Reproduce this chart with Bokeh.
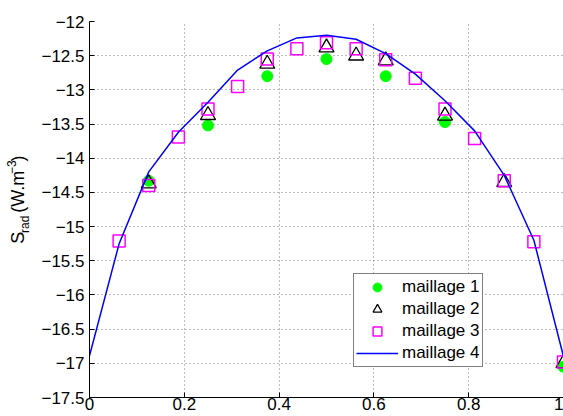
import math
from bokeh.plotting import figure
from bokeh.layouts import row
from bokeh.models import FixedTicker, Legend, LegendItem, Range1d
from bokeh.core.properties import value
from bokeh.embed import file_html
from bokeh.resources import INLINE

# ---- data -------------------------------------------------------------
x_ticks = [0, 0.2, 0.4, 0.6, 0.8, 1.0]
x_tick_labels = ["0", "0.2", "0.4", "0.6", "0.8", "1"]
y_ticks = [-17.5, -17.0, -16.5, -16.0, -15.5, -15.0, -14.5, -14.0, -13.5, -13.0, -12.5, -12.0]
y_tick_labels = ["\u221217.5", "\u221217", "\u221216.5", "\u221216", "\u221215.5", "\u221215",
                 "\u221214.5", "\u221214", "\u221213.5", "\u221213", "\u221212.5", "\u221212"]

m1_x = [0.125, 0.25, 0.375, 0.5, 0.625, 0.75, 1.0]
m1_y = [-14.33, -13.52, -12.80, -12.55, -12.80, -13.47, -17.05]

m2_x = [0.125, 0.25, 0.375, 0.5, 0.5625, 0.625, 0.75, 0.875, 1.0]
m2_y = [-14.37, -13.37, -12.62, -12.38, -12.50, -12.57, -13.38, -14.35, -17.00]

m3_x = [0.0625, 0.125, 0.1875, 0.25, 0.3125, 0.375, 0.4375, 0.5, 0.5625, 0.625,
        0.6875, 0.75, 0.8125, 0.875, 0.9375, 1.0]
m3_y = [-15.21, -14.40, -13.69, -13.28, -12.95, -12.55, -12.40, -12.31, -12.40, -12.56,
        -12.83, -13.28, -13.71, -14.33, -15.22, -16.98]

m4_x = [0.0, 0.0625, 0.125, 0.1875, 0.25, 0.3125, 0.375, 0.4375, 0.5, 0.5625, 0.625,
        0.6875, 0.75, 0.8125, 0.875, 0.9375, 1.0]
m4_y = [-16.89, -15.25, -14.20, -13.62, -13.18, -12.71, -12.43, -12.24, -12.20, -12.26, -12.47,
        -12.77, -13.16, -13.60, -14.25, -15.20, -16.90]

legend_labels = ["maillage 1", "maillage 2", "maillage 3", "maillage 4"]
ylabel_main = ["S", "(W.m", ")"]
ylabel_small = ["rad", "\u22123"]

FONT = "Liberation Sans"

# ---- layout (pixels) --------------------------------------------------
W, H = 563, 416
LW = 34                                   # width of the y-label strip
FL, FR, FT, FB = 89, 563, 21, 397         # frame edges on the page
X0, X1, Y0, Y1 = 0.0, 1.0, -17.5, -12.0

# ---- y label strip (text drawn in a pixel coordinate system) -----------
lab = figure(width=LW, height=H, output_backend="svg", toolbar_location=None,
             x_range=Range1d(0, LW), y_range=Range1d(0, H),
             x_axis_type=None, y_axis_type=None, min_border=0)
lab.outline_line_color = None
lab.grid.visible = False
lab.background_fill_color = "white"
lab.border_fill_color = "white"
# text centre-line x and start y (page px) of each piece
lab.text(x=[17, 17, 17], y=[H - 246, H - 211.7, H - 155], text=ylabel_main,
         angle=math.pi / 2, text_align="left", text_baseline="middle",
         text_font=value(FONT), text_font_size="18px", text_color="black")
lab.text(x=[24, 11], y=[H - 234, H - 168.7], text=ylabel_small,
         angle=math.pi / 2, text_align="left", text_baseline="middle",
         text_font=value(FONT), text_font_size="12px", text_color="black")

# ---- main figure ------------------------------------------------------
p = figure(width=W - LW, height=H, output_backend="svg", toolbar_location=None,
           x_range=Range1d(X0, X1), y_range=Range1d(Y0, Y1),
           min_border_left=FL - LW, min_border_right=W - FR, min_border_top=FT,
           min_border_bottom=H - FB)
p.outline_line_color = None
p.background_fill_color = "white"
p.border_fill_color = "white"

for ax in (p.xaxis[0], p.yaxis[0]):
    ax.axis_line_color = "black"
    ax.axis_line_width = 1
    ax.major_tick_line_color = "black"
    ax.major_tick_in = 5
    ax.major_tick_out = 0
    ax.minor_tick_line_color = None
    ax.major_label_text_font = FONT
    ax.major_label_text_font_size = "17px"
    ax.major_label_text_color = "black"

p.xaxis[0].ticker = FixedTicker(ticks=x_ticks)
p.xaxis[0].major_label_overrides = {t: l for t, l in zip(x_ticks, x_tick_labels)}
p.xaxis[0].major_label_standoff = 0
p.yaxis[0].ticker = FixedTicker(ticks=y_ticks)
p.yaxis[0].major_label_overrides = {t: l for t, l in zip(y_ticks, y_tick_labels)}
p.yaxis[0].major_label_standoff = 5

for g in (p.xgrid[0], p.ygrid[0]):
    g.grid_line_color = "#555555"
    g.grid_line_alpha = 0.8
    g.grid_line_dash = "1 3"
    g.grid_line_width = 1

r1 = p.scatter(m1_x, m1_y, marker="circle", size=11, fill_color="#00ff00", line_color="#00ff00")
r2 = p.scatter(m2_x, m2_y, marker="triangle", size=15, fill_color=None, line_color="black",
               line_width=1.3)
r3 = p.scatter(m3_x, m3_y, marker="square", size=12, fill_color=None, line_color="#ff00ff",
               line_width=1.5)
r4 = p.line(m4_x, m4_y, line_color="#0000ff", line_width=1.5)

legend = Legend(items=[LegendItem(label=l, renderers=[r]) for l, r in
                       zip(legend_labels, [r1, r2, r3, r4])],
                location=(264, 30), margin=0, padding=2, spacing=0,
                glyph_height=22, label_height=22, glyph_width=42, label_standoff=4,
                label_text_font=FONT, label_text_font_size="17px", label_text_color="black",
                border_line_color="black", border_line_width=1,
                background_fill_color="white", background_fill_alpha=1)
p.add_layout(legend, "center")

layout = row(lab, p, spacing=0)
open("out.html", "w").write(file_html(layout, INLINE))
